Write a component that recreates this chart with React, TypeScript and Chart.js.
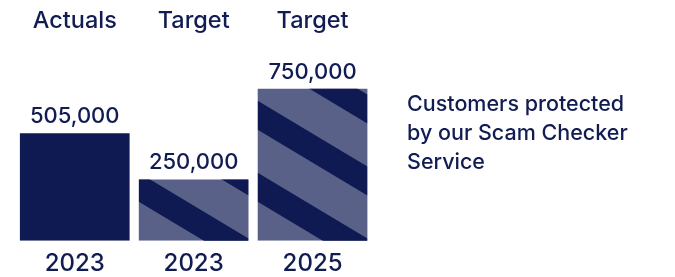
import React, { useEffect, useRef } from "react";
import { Chart, registerables } from "chart.js";

Chart.register(...registerables);

// ---- data ----
const years = ["2023", "2023", "2025"];
const headers = ["Actuals", "Target", "Target"];
const values = [505000, 250000, 750000];
const striped = [false, true, true];
const description = ["Customers protected", "by our Scam Checker", "Service"];
const axisMin = -87000;
const axisMax = 963000;

// ---- styles ----
const DARK = "#0e1a51";
const LIGHT = "#5a6189";
const TEXT = "#111c52";
const FONT = "Inter, 'Noto Sans', sans-serif";

const overlayPlugin = {
  id: "overlay",
  afterDatasetsDraw(chart: any) {
    const ctx = chart.ctx as CanvasRenderingContext2D;
    const meta = chart.getDatasetMeta(0);
    meta.data.forEach((bar: any, i: number) => {
      const { x, y, base, width } = bar.getProps(["x", "y", "base", "width"], true);
      const left = x - width / 2;
      const right = x + width / 2;
      if (striped[i]) {
        ctx.save();
        ctx.beginPath();
        ctx.rect(left, y, width, base - y);
        ctx.clip();
        ctx.fillStyle = DARK;
        const slope = 0.6;
        const period = 72;
        const thick = 29;
        const off = 39;
        for (let k = -2; k < 14; k++) {
          const lo = base - off - period * k;
          const up = lo - thick;
          ctx.beginPath();
          ctx.moveTo(left, lo);
          ctx.lineTo(right, lo + slope * width);
          ctx.lineTo(right, up + slope * width);
          ctx.lineTo(left, up);
          ctx.closePath();
          ctx.fill();
        }
        ctx.restore();
      }
      ctx.save();
      ctx.fillStyle = TEXT;
      ctx.textAlign = "center";
      ctx.textBaseline = "alphabetic";
      ctx.font = `500 22px ${FONT}`;
      ctx.fillText(values[i].toLocaleString("en-US"), x, y - 10);
      ctx.font = `500 23.5px ${FONT}`;
      ctx.fillText(headers[i], x, 27.5);
      ctx.restore();
    });
  },
};

export default function App() {
  const ref = useRef<HTMLCanvasElement | null>(null);

  useEffect(() => {
    document.body.style.margin = "0";
    const canvas = ref.current;
    if (!canvas) return;
    const chart = new Chart(canvas, {
      type: "bar",
      data: {
        labels: years,
        datasets: [
          {
            data: values,
            base: axisMin,
            backgroundColor: values.map((_, i) => (striped[i] ? LIGHT : DARK)),
            borderWidth: 0,
            barPercentage: 0.9226,
            categoryPercentage: 1,
          } as any,
        ],
      },
      options: {
        responsive: false,
        animation: false,
        devicePixelRatio: 1,
        layout: { padding: { left: 15.3, right: 303, top: 50, bottom: 0 } },
        plugins: { legend: { display: false }, tooltip: { enabled: false } },
        scales: {
          x: {
            grid: { display: false, drawTicks: false },
            border: { display: false },
            ticks: {
              color: TEXT,
              padding: 11,
              font: { family: FONT, size: 24, weight: "500", lineHeight: 1 },
            },
            afterFit: (scale: any) => {
              scale.height = 36.3;
            },
          },
          y: { display: false, min: axisMin, max: axisMax },
        },
      },
      plugins: [overlayPlugin],
    });
    return () => chart.destroy();
  }, []);

  return (
    <div style={{ position: "fixed", left: 0, top: 0, width: 675, height: 277, background: "#fff" }}>
      <canvas ref={ref} width={675} height={277} style={{ position: "absolute", left: 0, top: 0 }} />
      <div
        style={{
          position: "absolute",
          left: 407,
          top: 89,
          fontFamily: FONT,
          fontSize: 21.5,
          lineHeight: "29px",
          fontWeight: 500,
          color: TEXT,
          whiteSpace: "nowrap",
        }}
      >
        {description.map((line, i) => (
          <div key={i}>{line}</div>
        ))}
      </div>
    </div>
  );
}
